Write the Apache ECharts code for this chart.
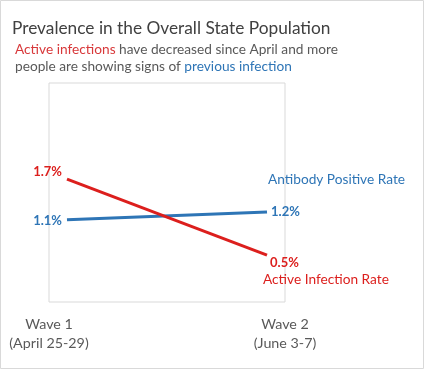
<!DOCTYPE html>
<html><head><meta charset="utf-8">
<script src="https://cdn.jsdelivr.net/npm/echarts@6/dist/echarts.min.js"></script>
<style>html,body{margin:0;padding:0;background:#fff}#c{width:424px;height:369px}</style>
</head><body><div id="c"></div>
<script>
const waves = ['Wave 1\n(April 25-29)', 'Wave 2\n(June 3-7)'];
const seriesNames = ['Antibody Positive Rate', 'Active Infection Rate'];
const antibody = [1.06, 1.18];
const active = [1.7, 0.5];
const FONT = 'Lato';
const RED = '#dc1f1d', BLUE = '#2e75b6';

const chart = echarts.init(document.getElementById('c'), null, {renderer: 'canvas'});
function pts(vals){ return vals.map((v,i)=>[i, v]); }
function lbl(pos, align, color){ return {show:true, position:pos, align:align, verticalAlign:'middle', color:color, fontFamily:FONT, fontWeight:'bold', fontSize:13, formatter: p => p.value[1].toFixed(1) + '%'}; }

chart.setOption({
  animation:false,
  graphic:[{type:'rect', shape:{x:0.5,y:0.5,width:423,height:368}, style:{fill:'none', stroke:'#d9d9d9', lineWidth:1}, silent:true}],
  title:[
    {text:'Prevalence in the Overall State Population', left:7, top:15, textStyle:{fontFamily:FONT, fontWeight:'normal', fontSize:17.3, color:'#404040'}},
    {text:'{r|Active infections} have decreased since April and more\npeople are showing signs of {b|previous infection}', left:10, top:36,
     textStyle:{fontFamily:FONT, fontWeight:'normal', fontSize:13.7, color:'#595959', lineHeight:17,
       rich:{r:{color:'#d8383a', fontFamily:FONT, fontSize:13.7, lineHeight:17}, b:{color:'#2e75b6', fontFamily:FONT, fontSize:13.7, lineHeight:17}}}}
  ],
  grid:{left:49, right:139, top:83, bottom:67, show:true, borderColor:'#d9d9d9', borderWidth:1},
  xAxis:[
    {type:'category', data:waves, boundaryGap:false, axisLine:{show:false}, axisTick:{show:false}, splitLine:{show:false},
     axisLabel:{color:'#595959', fontFamily:FONT, fontSize:14.3, lineHeight:19, margin:13}},
    {type:'value', show:false, min: v => v.min - 0.09, max: v => v.max + 0.09}
  ],
  yAxis:{type:'value', show:false, min:-0.24, max:3.22},
  series:[
    {name:seriesNames[0], type:'line', xAxisIndex:1, symbol:'circle', symbolSize:0, showSymbol:true, lineStyle:{color:BLUE, width:3}, itemStyle:{color:BLUE},
     endLabel:{show:true, formatter: seriesNames[0], color:BLUE, fontFamily:FONT, fontSize:13.7, offset:[1,-33], distance:0, align:'left'},
     labelLayout:{hideOverlap:false},
     data: pts(antibody).map((d,i)=>({value:d, label: i===0 ? lbl([-5,1],'right',BLUE) : lbl([4,0],'left',BLUE)}))},
    {name:seriesNames[1], type:'line', xAxisIndex:1, symbol:'circle', symbolSize:0, showSymbol:true, lineStyle:{color:RED, width:3}, itemStyle:{color:RED},
     endLabel:{show:true, formatter: seriesNames[1], color:RED, fontFamily:FONT, fontSize:13.7, offset:[-4,24], distance:0, align:'left'},
     labelLayout:{hideOverlap:false},
     data: pts(active).map((d,i)=>({value:d, label: i===0 ? lbl([-5,-7],'right',RED) : lbl([3,8],'left',RED)}))}
  ]
});
</script></body></html>
